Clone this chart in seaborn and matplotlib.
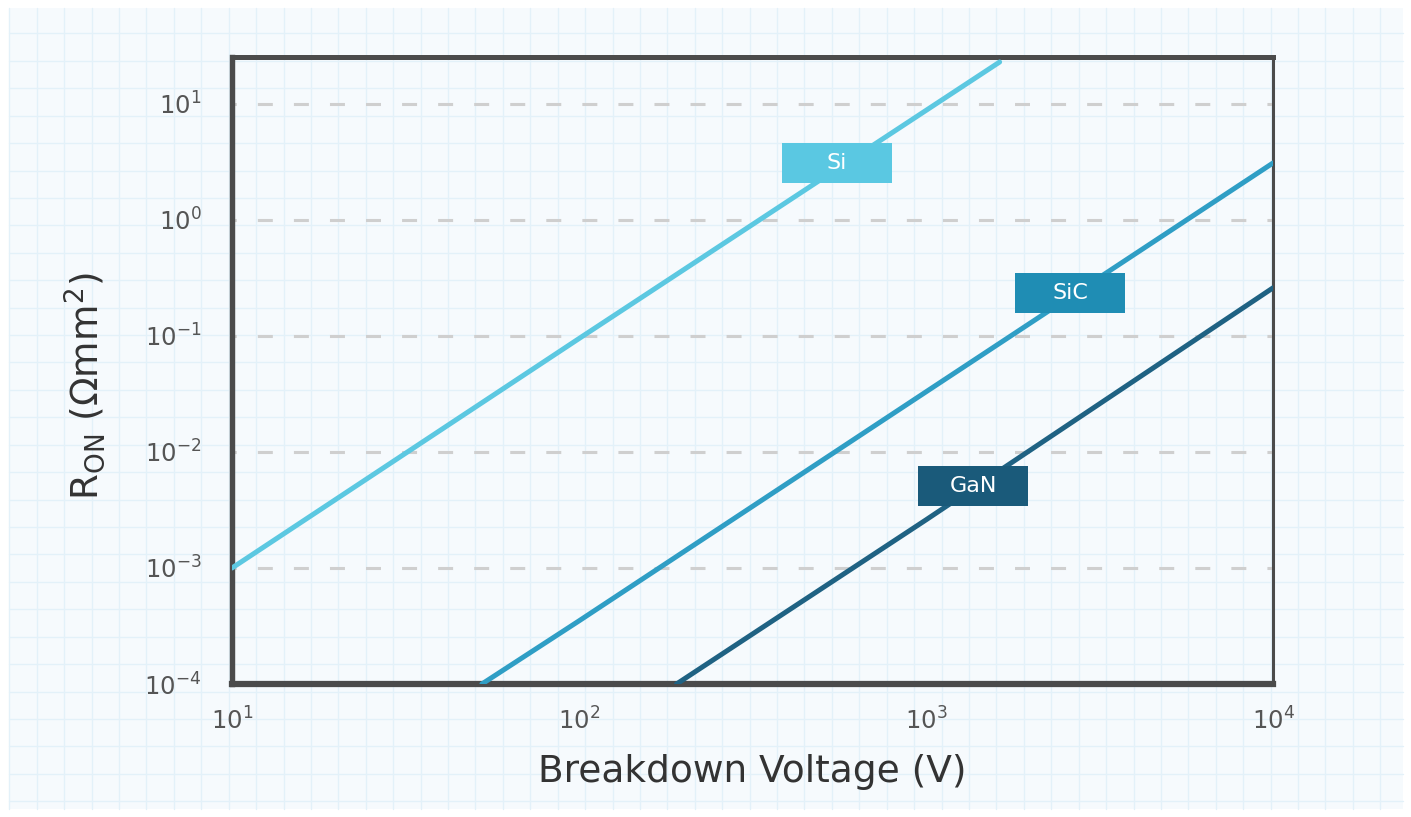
import numpy as np
import pandas as pd
import matplotlib
matplotlib.use("Agg")
import matplotlib.pyplot as plt
from matplotlib.patches import Rectangle
import seaborn as sns

# ---- data ----
materials = ["Si", "SiC", "GaN"]
voltage_si = [10, 100, 1000, 1630]
ron_si = [1.0e-3, 9.5e-2, 8.8, 23.0]
voltage_sic = [52.5, 100, 1000, 10000]
ron_sic = [1.0e-4, 3.5e-4, 3.3e-2, 3.1]
voltage_gan = [191, 1000, 10000]
ron_gan = [1.0e-4, 2.6e-3, 0.26]
y_ticks = [1e-4, 1e-3, 1e-2, 1e-1, 1e0, 1e1]
x_ticks = [1e1, 1e2, 1e3, 1e4]

colors = {"Si": "#5cc8e1", "SiC": "#2f9ec5", "GaN": "#1f6283"}
box_colors = {"Si": "#5ac8e2", "SiC": "#1f8db4", "GaN": "#1a5a7a"}

df = pd.concat([
    pd.DataFrame({"V": voltage_si, "R": ron_si, "material": "Si"}),
    pd.DataFrame({"V": voltage_sic, "R": ron_sic, "material": "SiC"}),
    pd.DataFrame({"V": voltage_gan, "R": ron_gan, "material": "GaN"}),
])

sns.set_theme(style="white")
plt.rcParams["font.family"] = ["DejaVu Sans"]

W, H = 1411, 817
fig = plt.figure(figsize=(W / 100, H / 100), dpi=100)
fig.patch.set_facecolor("white")

# graph-paper background
bg = fig.add_axes([0, 0, 1, 1], zorder=0)
bg.set_xlim(0, W)
bg.set_ylim(H, 0)
bg.axis("off")
bg.add_patch(Rectangle((9, 8), 1394, 801, facecolor="#f6fafd", edgecolor="none"))
step = 27.42
for gx in np.arange(9.3, 1403, step):
    bg.plot([gx, gx], [8, 809], color="#e3f1f9", lw=1.0, zorder=1)
for gy in np.arange(6.0, 809, step):
    if gy < 8:
        continue
    bg.plot([9, 1403], [gy, gy], color="#e3f1f9", lw=1.0, zorder=1)

# main axes
L, R_, T, B = 232, 1273, 57, 684
ax = fig.add_axes([L / W, 1 - B / H, (R_ - L) / W, (B - T) / H], zorder=2)
ax.set_facecolor("none")

sns.lineplot(data=df, x="V", y="R", hue="material", palette=colors,
             linewidth=3.6, legend=False, ax=ax, sort=False, estimator=None,
             solid_capstyle="round", zorder=3)
ax.set_xscale("log")
ax.set_yscale("log")
ax.set_xlim(10, 1e4)
ax.set_ylim(1e-4, 10 ** 1.405)
ax.set_xticks(x_ticks)
ax.set_yticks(y_ticks)
ax.minorticks_off()

# dashed horizontal grid
for yt in y_ticks[1:]:
    ax.axhline(yt, color="#cfcfcf", lw=2.2, linestyle=(3.5, (4.9, 6.9)), zorder=1)

spine_c = "#4b4b4b"
ax.spines["left"].set_linewidth(3.9)
ax.spines["top"].set_linewidth(3.6)
ax.spines["bottom"].set_linewidth(4.5)
ax.spines["right"].set_linewidth(2.2)
for s in ax.spines.values():
    s.set_color(spine_c)
    s.set_visible(True)
    s.set_capstyle("projecting")

ax.tick_params(axis="both", length=0, colors="#555555", labelsize=17.5)
ax.tick_params(axis="x", pad=17)
ax.tick_params(axis="y", pad=22)

ax.set_xlabel("Breakdown Voltage (V)", fontsize=27, color="#333333", labelpad=14)
ax.set_ylabel(r"R$_{\mathrm{ON}}$ ($\Omega$mm$^2$)", fontsize=27, color="#333333")
ax.yaxis.label.set_va("center")
ax.yaxis.set_label_coords(-0.142, 0.475)

# material label boxes (axes-fraction centers)
box_pos = {"Si": (0.581, 0.831), "SiC": (0.805, 0.624), "GaN": (0.712, 0.316)}
bw, bh = 110 / (R_ - L), 40 / (B - T)
for m in materials:
    cx, cy = box_pos[m]
    ax.add_patch(Rectangle((cx - bw / 2, cy - bh / 2), bw, bh, transform=ax.transAxes,
                           facecolor=box_colors[m], edgecolor="none", zorder=5))
    ax.text(cx, cy, m, transform=ax.transAxes, ha="center", va="center",
            color="white", fontsize=16, zorder=6)

fig.savefig("out.png", dpi=100)
